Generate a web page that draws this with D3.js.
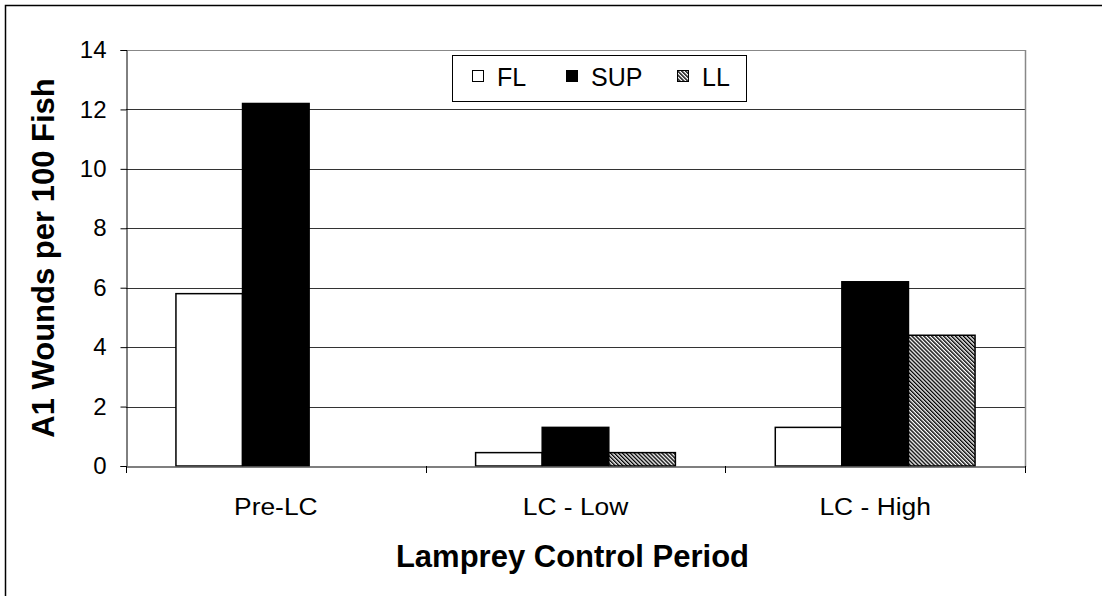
<!DOCTYPE html>
<html>
<head>
<meta charset="utf-8">
<script src="https://cdn.jsdelivr.net/npm/d3@7"></script>
<style>
  body { margin: 0; background: #fff; }
  text { font-family: "Liberation Sans", Arial, sans-serif; }
</style>
</head>
<body>
<div id="viz"></div>
<script>
// Datos del gráfico
let periodos = ['Pre-LC', 'LC - Low', 'LC - High'];
let series = ['FL', 'SUP', 'LL'];
let valoresFL = [5.8, 0.45, 1.3];
let valoresSUP = [12.2, 1.3, 6.2];
let valoresLL = [0, 0.45, 4.4];
let ticksY = [0, 2, 4, 6, 8, 10, 12, 14];

let w = 1102;
let h = 596;
let margen = {izq: 126, der: 1025, sup: 50, inf: 466};

let svg = d3.select('#viz')
    .append('svg')
        .attr('width', w)
        .attr('height', h);

// Patrón rayado para LL
let defs = svg.append('defs');
let patron = defs.append('pattern')
    .attr('id', 'rayas')
    .attr('patternUnits', 'userSpaceOnUse')
    .attr('width', 2.8)
    .attr('height', 2.8)
    .attr('patternTransform', 'rotate(-45)');
patron.append('rect').attr('width', 2.8).attr('height', 2.8).attr('fill', '#fff');
patron.append('rect').attr('width', 1.4).attr('height', 2.8).attr('fill', '#000');

// Borde exterior
svg.append('rect')
    .attr('x', 5.5).attr('y', 5.5)
    .attr('width', w + 20).attr('height', h + 20)
    .attr('fill', 'none')
    .attr('stroke', '#000')
    .attr('stroke-width', 1.5);

let datos = periodos.map((p, i) => ({
    periodo: p,
    valores: [
        {serie: 'FL', valor: valoresFL[i]},
        {serie: 'SUP', valor: valoresSUP[i]},
        {serie: 'LL', valor: valoresLL[i]}
    ]
}));

let x0 = d3.scaleBand()
    .domain(periodos)
    .range([margen.izq, margen.der])
    .padding(0);

// Ancho de separación 50% => 0.75 de barra a cada lado
let x1 = d3.scaleBand()
    .domain(series)
    .range([0, x0.bandwidth()])
    .paddingOuter(0.75)
    .paddingInner(0);

let y = d3.scaleLinear()
    .domain([0, 14])
    .range([margen.inf, margen.sup]);

let relleno = {FL: '#fff', SUP: '#000', LL: 'url(#rayas)'};

// Líneas de la cuadrícula
svg.append('g')
    .selectAll('line')
    .data(ticksY.filter(d => d > 0))
    .enter().append('line')
        .attr('x1', margen.izq)
        .attr('x2', margen.der)
        .attr('y1', d => Math.round(y(d)) + 0.5)
        .attr('y2', d => Math.round(y(d)) + 0.5)
        .attr('stroke', d => d == 14 ? '#888' : '#333')
        .attr('stroke-width', 1);

// Borde derecho del área del gráfico
svg.append('line')
    .attr('x1', margen.der + 0.5).attr('x2', margen.der + 0.5)
    .attr('y1', margen.sup).attr('y2', margen.inf + 1)
    .attr('stroke', '#888')
    .attr('stroke-width', 1.5);

// Barras
let grupos = svg.selectAll('.grupo')
    .data(datos)
    .enter().append('g')
        .attr('transform', d => `translate(${x0(d.periodo)},0)`);

grupos.selectAll('rect')
    .data(d => d.valores.filter(v => v.valor > 0))
    .enter().append('rect')
        .attr('x', d => x1(d.serie))
        .attr('y', d => y(d.valor))
        .attr('width', x1.bandwidth())
        .attr('height', d => y(0) - y(d.valor))
        .attr('fill', d => relleno[d.serie])
        .attr('stroke', '#000')
        .attr('stroke-width', 1.5);

// Eje Y
let ejeY = svg.append('g')
    .attr('transform', `translate(${margen.izq + 0.5},0)`)
    .call(d3.axisLeft(y).tickValues(ticksY).tickSize(6).tickPadding(14));
ejeY.select('.domain').attr('stroke', '#000');
ejeY.selectAll('text')
    .style('font-size', '24px')
    .attr('fill', '#000');

// Eje X
let ejeX = svg.append('g')
    .attr('transform', `translate(0,${margen.inf + 0.5})`)
    .call(d3.axisBottom(x0).tickSize(0).tickPadding(31));
ejeX.select('.domain').attr('stroke', '#555').attr('stroke-width', 1.5);
ejeX.selectAll('text')
    .style('font-size', '24px')
    .attr('transform', 'scale(1.1,1)')
    .attr('fill', '#000');

// Marcas entre categorías
svg.append('g')
    .selectAll('line')
    .data([0, 1, 2, 3])
    .enter().append('line')
        .attr('x1', i => Math.round(margen.izq + i * x0.step()) + 0.5)
        .attr('x2', i => Math.round(margen.izq + i * x0.step()) + 0.5)
        .attr('y1', margen.inf)
        .attr('y2', margen.inf + 7)
        .attr('stroke', '#000');

// Títulos de los ejes
svg.append('text')
    .attr('x', (margen.izq + margen.der) / 2 - 3)
    .attr('y', 567)
    .attr('text-anchor', 'middle')
    .style('font-size', '31px')
    .style('font-weight', 'bold')
    .text('Lamprey Control Period');

svg.append('text')
    .attr('transform', `translate(54,${(margen.sup + margen.inf) / 2}) rotate(-90)`)
    .attr('text-anchor', 'middle')
    .style('font-size', '31px')
    .style('font-weight', 'bold')
    .text('A1 Wounds per 100 Fish');

// Leyenda
let leyenda = svg.append('g');
leyenda.append('rect')
    .attr('x', 452.5).attr('y', 55.5)
    .attr('width', 294).attr('height', 46)
    .attr('fill', '#fff')
    .attr('stroke', '#000');

let posLeyenda = [472, 566, 677];
let itemsLeyenda = leyenda.selectAll('.item')
    .data(series)
    .enter().append('g')
        .attr('transform', (d, i) => `translate(${posLeyenda[i]},0)`);
itemsLeyenda.append('rect')
    .attr('x', 0.5).attr('y', 70.5)
    .attr('width', 11).attr('height', 11)
    .attr('fill', d => relleno[d])
    .attr('stroke', '#000');
itemsLeyenda.append('text')
    .attr('x', 25)
    .attr('y', 86)
    .style('font-size', '25px')
    .text(d => d);
</script>
</body>
</html>
